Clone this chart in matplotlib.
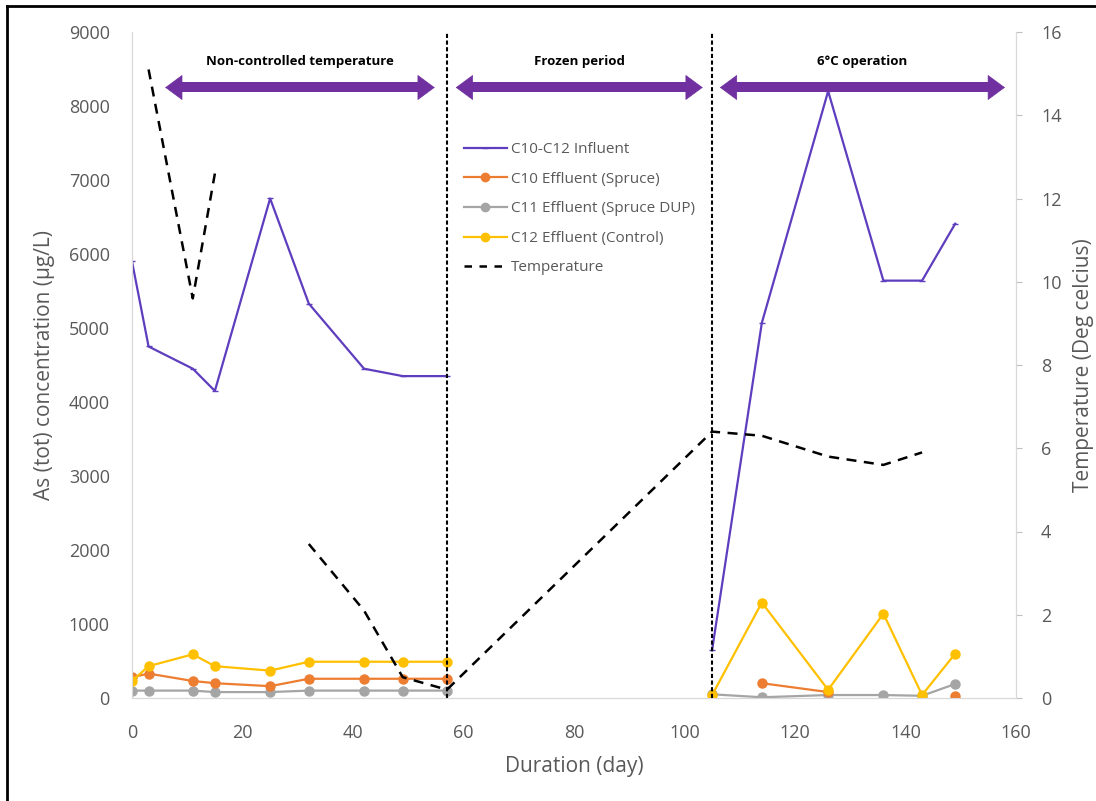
import numpy as np
from matplotlib import pyplot as plt
from matplotlib.patches import FancyArrowPatch
from matplotlib.lines import Line2D

plt.rcParams['font.family'] = ['Open Sans', 'DejaVu Sans']

# Sampling days
days = [0, 3, 11, 15, 25, 32, 42, 49, 57, 105, 114, 126, 136, 143, 149]
nan = np.nan

# As (tot) concentration (ug/L)
influent = [5900, 4750, 4450, 4150, 6750, 5330, 4450, 4350, 4350,
            650, 5070, 8200, 5640, 5640, 6410]
c10_spruce = [280, 330, 230, 200, 160, 260, 260, 260, 260,
              nan, 200, 80, nan, nan, 30]
c11_spruce_dup = [100, 100, 100, 80, 80, 100, 100, 100, 100,
                  50, 10, 40, 40, 30, 190]
c12_control = [230, 430, 590, 430, 370, 490, 490, 490, 490,
               40, 1290, 110, 1140, 40, 600]

# Temperature (deg C)
temperature = [nan, 15.1, 9.6, 12.6, nan, 3.7, 2.1, 0.5, 0.2,
               6.4, 6.3, 5.8, 5.6, 5.9, nan]

# Periods: (start, end, label)
periods = [(6.0, 54.8, 'Non-controlled temperature'),
           (58.6, 103.3, 'Frozen period'),
           (106.4, 158.0, '6°C operation')]
period_breaks = [57, 105]

purple_line = '#5E3DBE'
purple_arrow = '#7030A0'
orange = '#ED7D31'
gray = '#A5A5A5'
yellow = '#FFC000'
txt = '#595959'

fig = plt.figure(figsize=(10.96, 8.01), dpi=100)
ax = fig.add_axes([132 / 1096, 1 - 698 / 801, (1016 - 132) / 1096, (698 - 32) / 801])
ax2 = ax.twinx()

# Concentration series, drawn per period (no line through the frozen period)
d = np.array(days, dtype=float)
segments = [slice(0, 9), slice(9, 15)]
for seg in segments:
    ax.plot(d[seg], np.array(influent, float)[seg], color=purple_line, lw=1.6,
            marker='_', ms=4, zorder=3)
    ax.plot(d[seg], np.array(c10_spruce, float)[seg], color=orange, lw=1.6,
            marker='o', ms=6.5, zorder=4)
    ax.plot(d[seg], np.array(c11_spruce_dup, float)[seg], color=gray, lw=1.6,
            marker='o', ms=6.5, zorder=3)
    ax.plot(d[seg], np.array(c12_control, float)[seg], color=yellow, lw=1.6,
            marker='o', ms=6.5, zorder=5)

# Temperature on the secondary axis
ax2.plot(days, temperature, color='black', lw=1.8, dashes=(4, 3))

# Period separators
for x in period_breaks:
    ax.axvline(x, color='black', lw=1.5, ls=(0, (2, 1.2)), zorder=6)

# Period arrows: thick shaft + double filled heads, and labels
y_arrow = 8250
for x0, x1, label in periods:
    ax.plot([x0 + 2, x1 - 2], [y_arrow, y_arrow], color=purple_arrow, lw=7.2,
            solid_capstyle='butt', zorder=7)
    ax.add_patch(FancyArrowPatch((x0, y_arrow), (x1, y_arrow),
                                 arrowstyle='<|-|>,head_length=0.65,head_width=0.48',
                                 mutation_scale=18, lw=0.5, color=purple_arrow,
                                 shrinkA=0, shrinkB=0, zorder=7))
    ax.text((x0 + x1) / 2, 8520, label, ha='center', va='bottom',
            fontsize=9.5, fontweight='bold', color='black')

# Axes formatting
ax.set_xlim(0, 160)
ax.set_ylim(0, 9000)
ax2.set_ylim(0, 16)
ax.set_xticks(range(0, 161, 20))
ax.set_yticks(range(0, 9001, 1000))
ax2.set_yticks(range(0, 17, 2))
for a in (ax, ax2):
    for s in a.spines.values():
        s.set_color('#D9D9D9')
    a.spines['top'].set_visible(False)
    a.tick_params(labelsize=13, colors=txt, length=0)
ax.tick_params(axis='y', pad=16)
ax2.tick_params(axis='y', length=4, color='#BFBFBF', pad=14)
ax.tick_params(axis='x', pad=19)

ax.set_xlabel('Duration (day)', fontsize=15, color=txt, labelpad=10)
ax.set_ylabel('As (tot) concentration (µg/L)', fontsize=15, color=txt, labelpad=10)
ax2.set_ylabel('Temperature (Deg celcius)', fontsize=15, color=txt, labelpad=8)

# Legend
handles = [
    Line2D([], [], color=purple_line, lw=1.6, marker='_', ms=4),
    Line2D([], [], color=orange, lw=1.6, marker='o', ms=6),
    Line2D([], [], color=gray, lw=1.6, marker='o', ms=6),
    Line2D([], [], color=yellow, lw=1.6, marker='o', ms=6),
    Line2D([], [], color='black', lw=1.8, dashes=(3, 3)),
]
labels = ['C10-C12 Influent', 'C10 Effluent (Spruce)', 'C11 Effluent (Spruce DUP)',
          'C12 Effluent (Control)', 'Temperature']
leg = ax2.legend(handles, labels, loc='upper left', bbox_to_anchor=(0.36, 0.855),
                 frameon=False, fontsize=11, labelspacing=0.95,
                 handlelength=2.8, handletextpad=0.3)
for t in leg.get_texts():
    t.set_color(txt)

# Outer frame (top and left edges)
fig.add_artist(Line2D([0.006, 1.0], [0.993, 0.993], color='black', lw=2,
                      transform=fig.transFigure))
fig.add_artist(Line2D([0.006, 0.006], [0.0, 0.993], color='black', lw=2,
                      transform=fig.transFigure))

fig.savefig('out.png', dpi=100)
